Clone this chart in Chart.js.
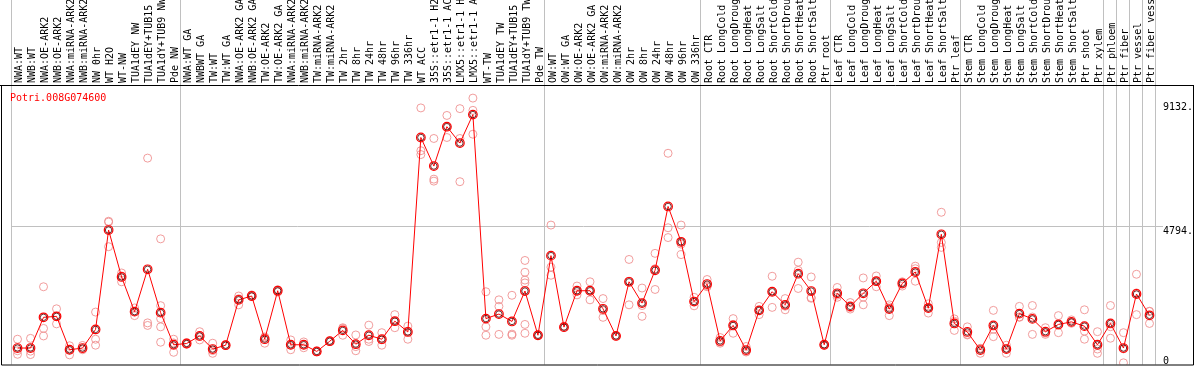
<!DOCTYPE html>
<html>
<head>
<meta charset="utf-8">
<script src="https://cdn.jsdelivr.net/npm/chart.js@4.4.1/dist/chart.umd.min.js"></script>
<style>
  html, body { margin: 0; padding: 0; background: #fff; }
  #wrap { width: 1194px; height: 370px; }
</style>
</head>
<body>
<div id="wrap"><canvas id="chart" width="1194" height="370"></canvas></div>
<script>
const geneId = 'Potri.008G074600';

const categories = [
  'NWA:WT', 'NWB:WT', 'NWA:OE-ARK2', 'NWB:OE-ARK2', 'NWA:miRNA-ARK2', 'NWB:miRNA-ARK2',
  'NW 0hr', 'WT H2O', 'WT-NW', 'TUA1dEY NW', 'TUA1dEY+TUB15 NW', 'TUA1dY+TUB9 NW', 'Pde NW',
  'NWA:WT GA', 'NWBWT GA', 'TW:WT', 'TW:WT GA', 'NWA:OE-ARK2 GA', 'NWB:OE-ARK2 GA',
  'TW:OE-ARK2', 'TW:OE-ARK2 GA', 'NWA:miRNA-ARK2', 'NWB:miRNA-ARK2', 'TW:miRNA-ARK2',
  'TW:miRNA-ARK2', 'TW 2hr', 'TW 8hr', 'TW 24hr', 'TW 48hr', 'TW 96hr', 'TW 336hr', 'WT ACC',
  '35S::etr1-1 H2O', '35S::etr1-1 ACC', 'LMX5::etr1-1 H2O', 'LMX5::etr1-1 ACC', 'WT-TW',
  'TUA1dEY TW', 'TUA1dEY+TUB15 TW', 'TUA1dY+TUB9 TW', 'Pde TW',
  'OW:WT', 'OW:WT GA', 'OW:OE-ARK2', 'OW:OE-ARK2 GA', 'OW:miRNA-ARK2', 'OW:miRNA-ARK2',
  'OW 2hr', 'OW 8hr', 'OW 24hr', 'OW 48hr', 'OW 96hr', 'OW 336hr',
  'Root CTR', 'Root LongCold', 'Root LongDrought', 'Root LongHeat', 'Root LongSalt',
  'Root ShortCold', 'Root ShortDrought', 'Root ShortHeat', 'Root ShortSalt', 'Ptr root',
  'Leaf CTR', 'Leaf LongCold', 'Leaf LongDrought', 'Leaf LongHeat', 'Leaf LongSalt',
  'Leaf ShortCold', 'Leaf ShortDrought', 'Leaf ShortHeat', 'Leaf ShortSalt', 'Ptr leaf',
  'Stem CTR', 'Stem LongCold', 'Stem LongDrought', 'Stem LongHeat', 'Stem LongSalt',
  'Stem ShortCold', 'Stem ShortDrought', 'Stem ShortHeat', 'Stem ShortSalt', 'Ptr shoot',
  'Ptr xylem', 'Ptr phloem', 'Ptr fiber', 'Ptr vessel', 'Ptr fiber vessel'
];

// first category of each sample group (grey separators)
const groupStarts = [0, 13, 41, 53, 63, 73, 84, 85, 86, 87];

const meanValues = [
  510, 510, 1590, 1625, 450, 510, 1165, 4660, 3010, 1790, 3280, 1755, 625,
  670, 935, 475, 610, 2205, 2340, 820, 2525, 625, 625, 390, 750, 1130, 645, 960, 820, 1455,
  1075, 7915, 6910, 8295, 7720, 8720, 1545, 1705, 1445, 2515, 960,
  3760, 1245, 2525, 2525, 1890, 935, 2840, 2090, 3245, 5490, 4245, 2145,
  2760, 760, 1305, 440, 1835, 2490, 2030, 3125, 2515, 625,
  2435, 1975, 2435, 2860, 1880, 2780, 3185, 1915, 4510, 1375,
  1075, 440, 1305, 475, 1720, 1535, 1085, 1340, 1430, 1280, 625,
  1375, 510, 2410, 1660
];

const replicateValues = [
  [820, 415, 290], [850, 400, 280], [2665, 1200, 935], [1890, 1360, 1625], [590, 270, 450],
  [600, 450, 480], [1775, 820, 610], [4940, 4075, 4970], [3150, 2840, 3045], [1920, 1790, 1650],
  [7190, 1395, 1305], [4350, 2000, 1545, 1255, 715], [820, 360, 690],
  [700, 640, 660], [1085, 795, 920], [680, 325, 420], [600, 630, 610], [2340, 2030, 2245],
  [2380, 2320, 2330], [880, 680, 900], [2560, 2480, 2530], [795, 450, 620], [725, 520, 620],
  [400, 375, 400], [760, 740, 750], [1225, 960, 1200], [970, 415, 560], [1315, 820, 740],
  [1050, 610, 800], [1685, 1225, 1450], [1280, 820, 1100], [8955, 7450, 7315], [7880, 6450, 6380],
  [8690, 7915, 8290], [8930, 7880, 6360], [9300, 8870, 8030], [2490, 1255, 960], [2205, 1975, 990],
  [2365, 960, 1000], [3590, 3175, 2900, 2800, 1340, 1030], [970, 950, 950],
  [4835, 3355, 3070], [1280, 1230, 1230], [2690, 2380, 2520], [2840, 2205, 2540], [2250, 1590, 1830],
  [940, 930, 940], [3625, 2030, 2860], [2620, 2005, 1625], [3840, 3300, 2570], [7360, 4740, 4395],
  [4835, 4165, 3795], [2295, 1995, 2150],
  [2920, 2665, 2700], [880, 680, 720], [1545, 1030, 1340], [565, 390, 370], [1975, 1685, 1840],
  [3035, 1940, 2500], [2250, 1855, 1980], [3530, 2605, 3240], [3010, 2285, 2260], [640, 600, 630],
  [2640, 2295, 2370], [2110, 1880, 1930], [2975, 2030, 2300], [3045, 2665, 2870], [2030, 1650, 1960],
  [2840, 2690, 2810], [3390, 2860, 3300], [2065, 1740, 1940], [5285, 4225, 4050], [1535, 1130, 1450],
  [1255, 990, 970], [495, 325, 500], [1835, 910, 1170], [610, 325, 490], [1975, 1605, 1590],
  [2005, 990, 1600], [1225, 990, 1040], [1650, 1050, 1320], [1500, 1380, 1410], [1855, 1105, 820],
  [1085, 475, 325], [2005, 855, 1260], [1050, -10, 480], [3105, 1685, 2450], [1800, 1375, 1800]
];

const yTickValues = [0, 4794, 9132];
const yTickLabels = ['0', '4794.', '9132.'];

const FONT = 'DejaVu Sans Mono';
Chart.defaults.font.family = FONT;
Chart.defaults.font.size = 10;
Chart.defaults.color = '#000';

// one scatter dataset per replicate slot, nulls where a sample has fewer replicates
const maxReps = Math.max(...replicateValues.map(r => r.length));
const replicateSets = [];
for (let k = 0; k < maxReps; k++) {
  replicateSets.push({
    label: 'rep ' + (k + 1),
    data: replicateValues.map(r => (k < r.length ? r[k] : null)),
    showLine: false,
    pointRadius: 4,
    pointBorderWidth: 1,
    pointBorderColor: 'rgba(238,140,140,0.85)',
    pointBackgroundColor: 'rgba(0,0,0,0)'
  });
}

// black frame + gene id, like the original plot
const framePlugin = {
  id: 'frame',
  afterDraw(chart) {
    const { ctx, chartArea, width } = chart;
    ctx.save();
    ctx.strokeStyle = '#000';
    ctx.lineWidth = 1;
    ctx.beginPath();
    ctx.moveTo(0, chartArea.top + 0.5);
    ctx.lineTo(width, chartArea.top + 0.5);
    ctx.moveTo(1.5, chartArea.top);
    ctx.lineTo(1.5, chartArea.bottom + 0.5);
    ctx.lineTo(width - 0.5, chartArea.bottom + 0.5);
    ctx.lineTo(width - 0.5, chartArea.top);
    ctx.stroke();
    ctx.fillStyle = '#ff0000';
    ctx.font = '10px "' + FONT + '"';
    ctx.textBaseline = 'top';
    ctx.fillText(geneId, chartArea.left - 1, chartArea.top + 8);
    ctx.restore();
  }
};

new Chart(document.getElementById('chart'), {
  type: 'line',
  data: {
    labels: categories,
    datasets: [
      {
        label: 'mean ring',
        data: meanValues,
        showLine: false,
        pointRadius: 3.2,
        pointBorderWidth: 1,
        pointBorderColor: 'rgba(70,0,0,0.8)',
        pointBackgroundColor: 'rgba(0,0,0,0)'
      },
      {
        label: 'mean',
        data: meanValues,
        borderColor: '#ff0000',
        borderWidth: 1,
        pointRadius: 4.3,
        pointBorderWidth: 1.2,
        pointBorderColor: '#ff0000',
        pointBackgroundColor: 'rgba(0,0,0,0)',
        tension: 0
      },
      ...replicateSets
    ]
  },
  options: {
    responsive: false,
    animation: false,
    events: [],
    layout: { padding: { left: 11, right: 0, top: 0, bottom: 1 } },
    plugins: {
      legend: { display: false },
      tooltip: { enabled: false },
      title: { display: false }
    },
    scales: {
      x: {
        type: 'category',
        position: 'top',
        offset: true,
        border: { display: false },
        grid: {
          offset: true,
          lineWidth: 1,
          tickLength: 85,
          color: (c) => {
            if (c.type === 'scale') return '#c0c0c0';
            return groupStarts.includes(c.index) ? '#c0c0c0' : 'rgba(0,0,0,0)';
          }
        },
        ticks: {
          autoSkip: false,
          maxRotation: 90,
          minRotation: 90,
          padding: -83,
          labelOffset: 14,
          color: '#000',
          font: { family: FONT, size: 10 }
        },
        afterFit: (scale) => {
          scale.height = 85;
          scale.paddingLeft = 0;
          scale.paddingRight = 0;
        }
      },
      y: {
        position: 'right',
        min: -69,
        max: 9761,
        border: { display: false },
        grid: {
          tickLength: 7,
          color: (c) => (c.tick && c.tick.value === 4794 ? '#c0c0c0' : 'rgba(0,0,0,0)')
        },
        afterBuildTicks: (scale) => {
          scale.ticks = yTickValues.map(v => ({ value: v }));
        },
        ticks: {
          padding: 0,
          labelOffset: 5,
          color: '#000',
          font: { family: FONT, size: 10 },
          callback: (value) => {
            const label = yTickLabels[yTickValues.indexOf(value)];
            return value === 0 ? [label, ''] : label;
          }
        },
        afterFit: (scale) => {
          scale.width = 38;
          scale.paddingTop = 0;
          scale.paddingBottom = 0;
        }
      }
    }
  },
  plugins: [framePlugin]
});
</script>
</body>
</html>
